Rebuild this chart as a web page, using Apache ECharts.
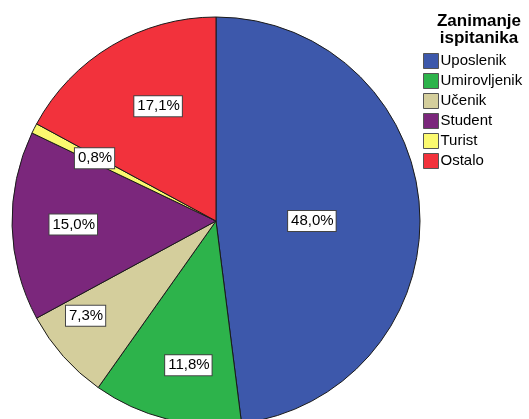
<!DOCTYPE html>
<html>
<head>
<meta charset="utf-8">
<script src="https://cdn.jsdelivr.net/npm/echarts@6/dist/echarts.min.js"></script>
<style>
  html, body { margin: 0; padding: 0; background: #fff; }
  #chartPie { width: 529px; height: 419px; }
</style>
</head>
<body>
<div id="chartPie"></div>
<script>
// data
const categories = ["Uposlenik", "Umirovljenik", "Učenik", "Student", "Turist", "Ostalo"];
const percents = [48.0, 11.8, 7.3, 15.0, 0.8, 17.1];
const sliceColors = ["#3d58ab", "#2db34b", "#d4ce9c", "#7b277c", "#fbf96f", "#f2323c"];
// label placement: fraction of radius, and small angle nudge (deg) off the slice middle
const labelRadius = [0.47, 0.72, 0.79, 0.70, 0.67, 0.63];
const labelAngleShift = [3.6, -3.2, 5.6, 0, 0.3, 4];

const cx = 216, cy = 221, R = 204;
const font = "Liberation Sans, Arial, sans-serif";

// middle angle of each slice, clockwise from 12 o'clock
const total = percents.reduce((a, b) => a + b, 0);
const midAngles = [];
let acc = 0;
percents.forEach((v) => {
  midAngles.push(((acc + v / 2) / total) * 360);
  acc += v;
});

const myChart = echarts.init(document.getElementById("chartPie"));
const option = {
  animation: false,
  color: sliceColors,
  title: {
    text: "Zanimanje\nispitanika",
    left: 474,
    top: 8,
    textAlign: "center",
    textStyle: {
      fontFamily: font,
      fontSize: 17,
      fontWeight: "bold",
      lineHeight: 17,
      color: "#000",
    },
  },
  legend: {
    orient: "vertical",
    left: 423,
    top: 53,
    padding: 0,
    icon: "rect",
    itemWidth: 15,
    itemHeight: 15,
    itemGap: 4,
    selectedMode: false,
    itemStyle: { borderColor: "#555", borderWidth: 1 },
    textStyle: {
      fontFamily: font,
      fontSize: 15,
      lineHeight: 15,
      color: "#000",
      padding: [0, 0, 0, -3],
    },
    data: categories,
  },
  series: [
    {
      type: "pie",
      center: [cx, cy],
      radius: [0, R],
      startAngle: 90,
      clockwise: true,
      avoidLabelOverlap: false,
      emphasis: { disabled: true },
      itemStyle: { borderColor: "#1a1a1a", borderWidth: 1 },
      label: {
        show: true,
        position: "inside",
        formatter: (p) => p.value.toFixed(1).replace(".", ",") + "%",
        fontFamily: font,
        fontSize: 15,
        color: "#000",
        backgroundColor: "#fff",
        borderColor: "#444",
        borderWidth: 1,
        padding: [3, 2, 2, 3],
      },
      labelLine: { show: false },
      labelLayout: (params) => {
        const i = params.dataIndex;
        const a = ((midAngles[i] + labelAngleShift[i]) * Math.PI) / 180;
        const r = labelRadius[i] * R;
        return {
          x: cx + r * Math.sin(a),
          y: cy - r * Math.cos(a),
          align: "center",
          verticalAlign: "middle",
        };
      },
      data: categories.map((name, i) => ({ name: name, value: percents[i] })),
    },
  ],
};
myChart.setOption(option);
</script>
</body>
</html>
